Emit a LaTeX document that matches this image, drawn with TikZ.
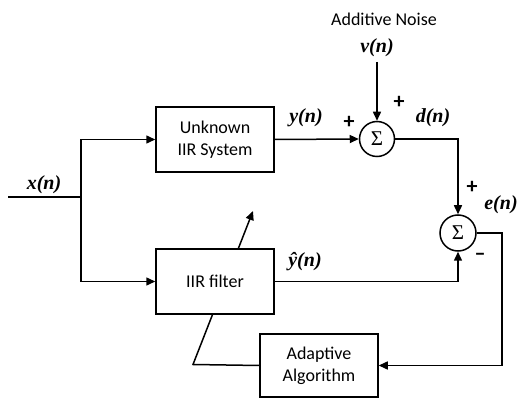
\documentclass[tikz,border=0pt]{standalone}
\usepackage{fontspec}
\setmainfont{Carlito}
\newfontfamily\labfont{Liberation Serif}
\newcommand{\mlab}[1]{{\labfont\bfseries\itshape #1}}
\usetikzlibrary{arrows.meta,backgrounds}
\begin{document}
\begin{tikzpicture}[x=1pt,y=-1pt,
  line width=1.5pt,
  font=\fontsize{18}{22}\selectfont,
  block/.style={draw,fill=white,minimum width=118pt,align=center,inner sep=2pt},
  sumnode/.style={draw,circle,fill=white,minimum size=35pt,inner sep=0pt,font=\labfont\fontsize{21}{22}\selectfont},
  sig/.style={font=\fontsize{20}{20}\selectfont,inner sep=1pt},
  pm/.style={font=\fontsize{22}{22}\selectfont\bfseries,inner sep=0pt},
  arr/.style={-{Triangle[length=9pt,width=8pt]}}]
\useasboundingbox (0,0) rectangle (520,398);
% blocks
\node[block,minimum height=65pt] (unk) at (215,139.5) {Unknown\\IIR System};
\node[block,minimum height=65pt] (iir) at (215,281.5) {IIR filter};
\node[block,minimum height=63pt] (adapt) at (319,365.5) {Adaptive\\Algorithm};
\node[sumnode] (s1) at (377,139) {Σ};
\node[sumnode,minimum size=36pt] (s2) at (458,233) {Σ};
% coordinates
\coordinate (in) at (8,197);
\coordinate (j) at (81,197);
\coordinate (vn) at (377,62);
\coordinate (r) at (502,233);
\coordinate (c1) at (193,364.5);
\coordinate (c2) at (253,211);
% labels
\node (addn) at (384,19) {Additive Noise};
\node[sig] (vlab) at (377,48) {\mlab{v(n)}};
\node[sig] (ylab) at (306,118) {\mlab{y(n)}};
\node[sig] (dlab) at (433,118) {\mlab{d(n)}};
\node[sig] (xlab) at (44,185) {\mlab{x(n)}};
\node[sig] (elab) at (501,205) {\mlab{e(n)}};
\node[sig] (yhlab) at (305,262) {\mlab{\^y(n)}};
\node[pm] (p1) at (399,102) {+};
\node[pm] (p2) at (349,122) {+};
\node[pm] (p3) at (472,187) {+};
\node[pm] (m1) at (480,257) {–};
% connectors
\draw (in) -- (j);
\draw[arr] (j) |- (unk.west);
\draw[arr] (j) |- (iir.west);
\draw[arr] (unk.east) -- (s1.west);
\draw[arr] (vn) -- (s1.north);
\draw[arr] (s1.east) -| (s2.north);
\draw[arr] (iir.east) -| (s2.south);
\draw[arr] (s2.east) -- (r) |- (adapt.east);
\begin{scope}[on background layer]
\draw[arr,line width=1.5pt] (adapt.west) -- (c1) -- (c2);
\end{scope}
\end{tikzpicture}
\end{document}
